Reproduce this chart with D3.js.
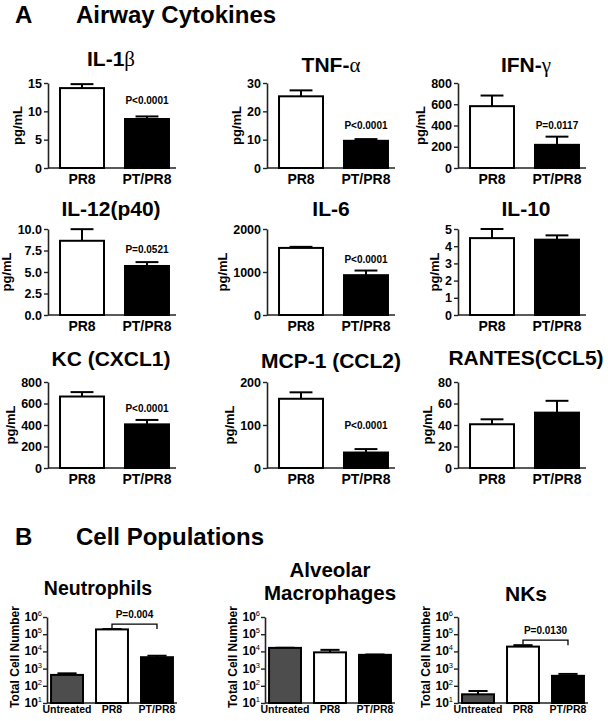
<!DOCTYPE html>
<html>
<head>
<meta charset="utf-8">
<script src="https://cdn.jsdelivr.net/npm/d3@7"></script>
<style>
  html, body { margin: 0; padding: 0; background: #fff; }
  svg { display: block; }
</style>
</head>
<body>
<div id="chart"></div>
<script>
// ---------------- DATA ----------------
// Panel A: airway cytokines (pg/mL), mean and SEM per group
const cytokines = ["IL-1β", "TNF-α", "IFN-γ", "IL-12(p40)", "IL-6", "IL-10", "KC (CXCL1)", "MCP-1 (CCL2)", "RANTES(CCL5)"];
const groupsA = ["PR8", "PT/PR8"];
const meanPR8   = [14.1, 25.3, 582, 8.63, 1560, 4.47, 665, 161, 40.7];
const semPR8    = [0.7,  2.1,  100, 1.35, 25,   0.53, 41,  15,  4.6];
const meanPTPR8 = [8.65, 9.6,  218, 5.7,  926,  4.38, 406, 36,  51.5];
const semPTPR8  = [0.45, 0.6,  77,  0.45, 108,  0.25, 41,  8,   11];
const yMaxA     = [15, 30, 800, 10, 2000, 5, 800, 200, 80];
const tickStepA = [5, 10, 200, 2.5, 1000, 1, 200, 100, 20];
const tickFmtA  = ["d", "d", "d", ".1f", "d", "d", "d", "d", "d"];
const pValuesA  = ["P<0.0001", "P<0.0001", "P=0.0117", "P=0.0521", "P<0.0001", "", "P<0.0001", "P<0.0001", ""];

// Panel B: cell populations (total cell number, log scale)
const cellTypes = [["Neutrophils"], ["Alveolar", "Macrophages"], ["NKs"]];
const groupsB = ["Untreated", "PR8", "PT/PR8"];
const cellUntreated    = [430, 16000, 32];
const cellUntreatedErr = [100, 300, 18];
const cellPR8          = [190000, 8800, 19000];
const cellPR8Err       = [8000, 3500, 4000];
const cellPTPR8        = [4600, 6300, 380];
const cellPTPR8Err     = [1000, 300, 110];
const logTicks = [1e1, 1e2, 1e3, 1e4, 1e5, 1e6];
const pValuesB = ["P=0.004", "", "P=0.0130"];

// ---------------- LAYOUT ----------------
const W = 608, H = 721;
const FONT = "'Liberation Sans', Arial, Helvetica, sans-serif";
const colAxisA = [48, 267, 458];
const rowsA = [{top: 83, zero: 168}, {top: 229, zero: 315}, {top: 382, zero: 468}];
const titleXA = [111, 331, 526];
const titleYA = [[66, 72, 72], [216, 216, 216], [366, 368, 365]];
const pOffsetA = [12, 10, 8, 9, 8, 0, 8, 20, 0];

const colAxisB = [47, 265, 458];
const bTop = 617, bZero = 703;

const svg = d3.select("#chart").append("svg")
  .attr("width", W).attr("height", H)
  .attr("font-family", FONT).attr("font-weight", "bold");

svg.append("rect").attr("width", W).attr("height", H).attr("fill", "#fff");

// Section headers
function header(letter, text, y) {
  svg.append("text").attr("x", 15).attr("y", y).attr("font-size", 24).text(letter);
  svg.append("text").attr("x", 76).attr("y", y).attr("font-size", 24).text(text);
}
header("A", "Airway Cytokines", 23);
header("B", "Cell Populations", 545);

// Title with Greek letters drawn in serif normal weight
function title(txt, x, y, size) {
  const t = svg.append("text").attr("x", x).attr("y", y).attr("text-anchor", "middle")
    .attr("font-size", size);
  const parts = txt.split(/([α-ω])/);
  parts.forEach(p => {
    if (!p) return;
    const s = t.append("tspan").text(p);
    if (/[α-ω]/.test(p)) s.attr("font-family", "'Liberation Serif', 'DejaVu Serif', serif").attr("font-weight", "normal");
  });
  return t;
}

function styleAxis(gAxis) {
  gAxis.selectAll("path.domain").attr("stroke", "#222").attr("stroke-width", 1.6);
  gAxis.selectAll(".tick line").attr("stroke", "#222").attr("stroke-width", 1.4);
  gAxis.selectAll(".tick text").attr("font-family", FONT).attr("font-weight", "bold")
    .attr("font-size", 12.5).attr("fill", "#000");
}

function errorBar(g, cx, yMean, yTop, capW) {
  g.append("line").attr("x1", cx).attr("x2", cx).attr("y1", yMean).attr("y2", yTop)
    .attr("stroke", "#000").attr("stroke-width", 2);
  g.append("line").attr("x1", cx - capW / 2).attr("x2", cx + capW / 2).attr("y1", yTop).attr("y2", yTop)
    .attr("stroke", "#000").attr("stroke-width", 2);
}

// ---------------- PANEL A ----------------
cytokines.forEach((name, i) => {
  const col = i % 3, row = Math.floor(i / 3);
  const ax = colAxisA[col];
  const {top, zero} = rowsA[row];
  const g = svg.append("g");

  const x = d3.scaleBand().domain(groupsA).range([ax, ax + 133])
    .paddingInner(0.323).paddingOuter(0.185);
  const y = d3.scaleLinear().domain([0, yMaxA[i]]).range([zero, top]);
  const bw = x.bandwidth();

  const ticks = d3.range(0, yMaxA[i] + 1e-9, tickStepA[i]);
  const yAxis = d3.axisLeft(y).tickValues(ticks).tickFormat(d3.format(tickFmtA[i]))
    .tickSize(4).tickSizeOuter(0).tickPadding(2);
  const gy = g.append("g").attr("transform", `translate(${ax},0)`).call(yAxis);
  styleAxis(gy);

  // x baseline
  g.append("line").attr("x1", ax).attr("x2", ax + 128).attr("y1", zero).attr("y2", zero)
    .attr("stroke", "#222").attr("stroke-width", 1.6);

  // y label
  let minX = Infinity;
  gy.selectAll(".tick text").each(function () {
    const b = this.getBBox();
    minX = Math.min(minX, ax + b.x);
  });
  g.append("text").attr("transform", `translate(${minX - 6.5},${(top + zero) / 2}) rotate(-90)`)
    .attr("text-anchor", "middle").attr("font-size", 13).text("pg/mL");

  const means = [meanPR8[i], meanPTPR8[i]];
  const errs = [semPR8[i], semPTPR8[i]];
  const fills = ["#fff", "#000"];
  groupsA.forEach((grp, k) => {
    const cx = x(grp) + bw / 2;
    errorBar(g, cx, y(means[k]), y(means[k] + errs[k]), bw * 0.52);
    g.append("rect").attr("x", x(grp)).attr("y", y(means[k]))
      .attr("width", bw).attr("height", zero - y(means[k]))
      .attr("fill", fills[k]).attr("stroke", "#000").attr("stroke-width", 2);
    g.append("text").attr("x", cx).attr("y", zero + 16).attr("text-anchor", "middle")
      .attr("font-size", 14).text(grp);
  });

  if (pValuesA[i]) {
    const cx = x("PT/PR8") + bw / 2;
    g.append("text").attr("x", cx).attr("y", y(means[1] + errs[1]) - pOffsetA[i])
      .attr("text-anchor", "middle").attr("font-size", 10).text(pValuesA[i]);
  }

  title(name, titleXA[col], titleYA[row][col], 21);
});

// ---------------- PANEL B ----------------
const titleXB = [98, 330, 526];
cellTypes.forEach((lines, i) => {
  const ax = colAxisB[i];
  const g = svg.append("g");
  const x = d3.scaleBand().domain(groupsB).range([ax, ax + 130])
    .paddingInner(0.29).paddingOuter(0.09);
  const y = d3.scaleLog().domain([10, 1e6]).range([bZero, bTop]);
  const bw = x.bandwidth();

  const yAxis = d3.axisLeft(y).tickValues(logTicks).tickFormat(() => "")
    .tickSize(4).tickSizeOuter(0);
  const gy = g.append("g").attr("transform", `translate(${ax},0)`).call(yAxis);
  styleAxis(gy);

  // custom superscript tick labels
  let minX = Infinity;
  logTicks.forEach(v => {
    const t = g.append("text").attr("x", ax - 5).attr("y", y(v) + 4)
      .attr("text-anchor", "end").attr("font-size", 12);
    t.append("tspan").text("10");
    t.append("tspan").attr("dy", -5).attr("font-size", 7.5).attr("font-weight", "normal")
      .text(String(Math.round(Math.log10(v))));
    minX = Math.min(minX, t.node().getBBox().x);
  });

  g.append("line").attr("x1", ax).attr("x2", ax + 130).attr("y1", bZero).attr("y2", bZero)
    .attr("stroke", "#222").attr("stroke-width", 1.6);

  g.append("text").attr("transform", `translate(${minX - 5},${(bTop + bZero) / 2 - 3}) rotate(-90)`)
    .attr("text-anchor", "middle").attr("font-size", 12).text("Total Cell Number");

  const means = [cellUntreated[i], cellPR8[i], cellPTPR8[i]];
  const errs = [cellUntreatedErr[i], cellPR8Err[i], cellPTPR8Err[i]];
  const fills = ["#4d4d4d", "#fff", "#000"];
  groupsB.forEach((grp, k) => {
    const cx = x(grp) + bw / 2;
    errorBar(g, cx, y(means[k]), y(means[k] + errs[k]), bw * 0.6);
    g.append("rect").attr("x", x(grp)).attr("y", y(means[k]))
      .attr("width", bw).attr("height", bZero - y(means[k]))
      .attr("fill", fills[k]).attr("stroke", "#000").attr("stroke-width", 2);
    g.append("text").attr("x", cx).attr("y", bZero + 10).attr("text-anchor", "middle")
      .attr("font-size", 10.5).text(grp);
  });

  if (pValuesB[i]) {
    const x1 = x("PR8") + bw / 2, x2 = x("PT/PR8") + bw / 2;
    const by = y(means[1] + errs[1]) - 5;
    g.append("path")
      .attr("d", `M${x1},${by + 4}V${by}H${x2}V${by + 5}`)
      .attr("fill", "none").attr("stroke", "#000").attr("stroke-width", 1.3);
    g.append("text").attr("x", (x1 + x2) / 2).attr("y", by - 6).attr("text-anchor", "middle")
      .attr("font-size", 10).text(pValuesB[i]);
  }

  if (lines.length === 1) {
    title(lines[0], titleXB[i], i === 0 ? 595 : 601, i === 0 ? 19.5 : 21);
  } else {
    title(lines[0], titleXB[i], 577, 20.5);
    title(lines[1], titleXB[i], 600, 20.5);
  }
});
</script>
</body>
</html>
